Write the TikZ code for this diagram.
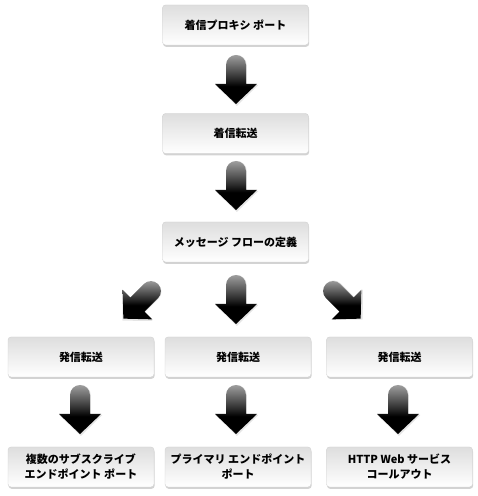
\documentclass[tikz,border=0pt]{standalone}
\usepackage{fontspec}
\setmainfont{Noto Sans CJK JP}
\usetikzlibrary{shadows}
\pgfdeclareverticalshading{arrowsh}{100bp}{color(0bp)=(black); color(43bp)=(black); color(50bp)=(black!85); color(62bp)=(black!62); color(75bp)=(black!38); color(100bp)=(black!38)}
\tikzset{
  box/.style={rounded corners=3pt, minimum width=146pt, minimum height=40pt,
    top color=black!13, bottom color=white, draw=black!18, line width=0.4pt,
    align=center, font=\bfseries\fontsize{11}{15}\selectfont,
    drop shadow={opacity=0.35, shadow xshift=0.6pt, shadow yshift=-1.8pt}},
  fatarrow/.style={shading=arrowsh, draw=none}
}
\newcommand\fatarr[2]{% #1 = tail coordinate name, #2 = rotation
  \begin{scope}[shift={(#1)}, rotate=#2]
    \fill[black!10, xshift=0.8pt, yshift=-1pt] (-10,-9) arc (180:0:10) -- (10,-29) -- (21.5,-29) -- (0,-50) -- (-21.5,-29) -- (-10,-29) -- cycle;
    \shade[fatarrow] (-10,-10) arc (180:0:10) -- (10,-29) -- (21,-29) -- (0,-49) -- (-21,-29) -- (-10,-29) -- cycle;
  \end{scope}}
\begin{document}
\begin{tikzpicture}[x=1pt,y=1pt]
\useasboundingbox (0,0) rectangle (478,496);
\node[box] (n1) at (235.5,471) {着信プロキシ ポート};
\node[box] (n2) at (235.5,362.5) {着信転送};
\node[box] (n3) at (235.5,254) {メッセージ フローの定義};
\node[box] (o1) at (81,139) {発信転送};
\node[box] (o2) at (238,139) {発信転送};
\node[box] (o3) at (399.5,139) {発信転送};
\node[box] (e1) at (81,29) {複数のサブスクライブ\\エンドポイント ポート};
\node[box] (e2) at (238,29) {プライマリ エンドポイント\\ポート};
\node[box] (e3) at (399.5,29) {HTTP Web サービス\\コールアウト};
\coordinate (a1) at (236,441);
\coordinate (a2) at (236,335);
\coordinate (a3) at (236,221);
\coordinate (a4) at (158,212);
\coordinate (a5) at (326,212);
\coordinate (a6) at (80,111);
\coordinate (a7) at (236,111);
\coordinate (a8) at (398,111);
\fatarr{a1}{0}
\fatarr{a2}{0}
\fatarr{a3}{0}
\fatarr{a4}{-45}
\fatarr{a5}{45}
\fatarr{a6}{0}
\fatarr{a7}{0}
\fatarr{a8}{0}
\end{tikzpicture}
\end{document}
